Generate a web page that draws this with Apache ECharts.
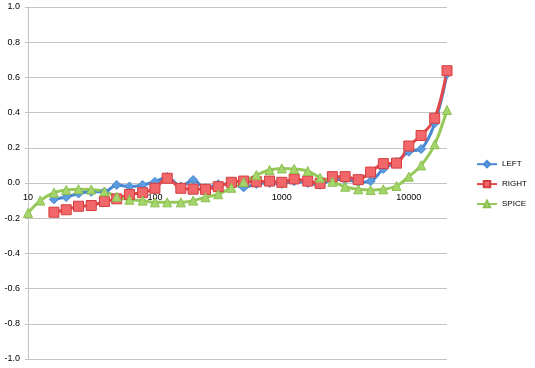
<!DOCTYPE html>
<html>
<head>
<meta charset="utf-8">
<script src="https://cdn.jsdelivr.net/npm/echarts@6/dist/echarts.min.js"></script>
<style>
html,body{margin:0;padding:0;background:#fff;}
#c{width:535px;height:368px;}
</style>
</head>
<body>
<div id="c"></div>
<script>
var freqs = [10,12.5,16,20,25,31.5,40,50,63,80,100,125,160,200,250,315,400,500,630,800,1000,1250,1600,2000,2500,3150,4000,5000,6300,8000,10000,12500,16000,20000];
var left = [null,null,-0.093,-0.08,-0.06,-0.05,-0.05,-0.011,-0.02,-0.011,0.007,0.034,-0.02,0.017,-0.03,-0.007,-0.005,-0.025,-0.005,0.0,-0.005,0.01,0.0,-0.01,0.02,0.02,0.005,0.01,0.08,0.12,0.178,0.193,0.34,0.62];
var right = [null,null,-0.166,-0.152,-0.132,-0.128,-0.105,-0.09,-0.065,-0.055,-0.03,0.027,-0.03,-0.035,-0.036,-0.021,0.004,0.011,0.007,0.011,0.004,0.023,0.011,-0.002,0.036,0.036,0.019,0.062,0.11,0.113,0.21,0.27,0.368,0.638];
var spice = [-0.17,-0.10,-0.055,-0.04,-0.035,-0.037,-0.048,-0.078,-0.095,-0.10,-0.11,-0.11,-0.11,-0.10,-0.081,-0.064,-0.027,0.005,0.045,0.074,0.083,0.08,0.068,0.03,0.007,-0.021,-0.036,-0.04,-0.036,-0.017,0.036,0.10,0.22,0.415];
var seriesNames = ['LEFT','RIGHT','SPICE'];

function pairs(vals){
  var out = [];
  for (var i = 0; i < freqs.length; i++) {
    if (vals[i] !== null) out.push([freqs[i], vals[i]]);
  }
  return out;
}

var chart = echarts.init(document.getElementById('c'));
var font = 'Liberation Sans';
var gridTop = 7, gridBottom = 9, H = 368;
chart.setOption({
  animation: false,
  backgroundColor: '#fff',
  grid: {left: 28, right: 88, top: gridTop, bottom: gridBottom, containLabel: false},
  legend: {
    orient: 'vertical',
    left: 476,
    top: 160,
    padding: 0,
    itemWidth: 20,
    itemHeight: 8,
    itemGap: 11.5,
    data: seriesNames,
    textStyle: {fontFamily: font, fontSize: 8, color: '#000'}
  },
  xAxis: {
    type: 'log',
    logBase: 10,
    min: 10,
    max: 20000,
    position: 'bottom',
    offset: -(H - gridTop - gridBottom) / 2,
    axisLine: {show: false, onZero: false},
    axisTick: {show: false},
    splitLine: {show: false},
    axisLabel: {
      fontFamily: font, fontSize: 9, color: '#000', margin: 10,
      showMaxLabel: false,
      formatter: function(v){ var l = Math.log10(v); return Math.abs(l - Math.round(l)) < 1e-6 ? String(Math.round(v)) : ''; }
    }
  },
  yAxis: {
    type: 'value',
    min: -1,
    max: 1,
    interval: 0.2,
    axisLine: {show: true, lineStyle: {color: '#c4c4c4', width: 1}},
    axisTick: {show: true, length: 3, lineStyle: {color: '#c4c4c4'}},
    splitLine: {show: true, lineStyle: {color: '#c4c4c4', width: 1}},
    axisLabel: {
      fontFamily: font, fontSize: 9, color: '#000', margin: 8,
      formatter: function(v){ return v.toFixed(1); }
    }
  },
  series: [
    {
      name: 'LEFT', type: 'line', smooth: 0.35, data: pairs(left),
      symbol: 'diamond', symbolSize: 9,
      lineStyle: {color: '#4a89d2', width: 3},
      itemStyle: {color: '#5b9be0', borderColor: '#4a89d2', borderWidth: 1}
    },
    {
      name: 'RIGHT', type: 'line', smooth: 0.35, data: pairs(right),
      symbol: 'rect', symbolSize: 10,
      lineStyle: {color: '#e2474a', width: 3},
      itemStyle: {color: '#f2686a', borderColor: '#d53c3e', borderWidth: 1}
    },
    {
      name: 'SPICE', type: 'line', smooth: 0.35, data: pairs(spice),
      symbol: 'triangle', symbolSize: 9,
      lineStyle: {color: '#96c95a', width: 3},
      itemStyle: {color: '#a5d66c', borderColor: '#8cbf50', borderWidth: 1}
    }
  ]
});
</script>
</body>
</html>
